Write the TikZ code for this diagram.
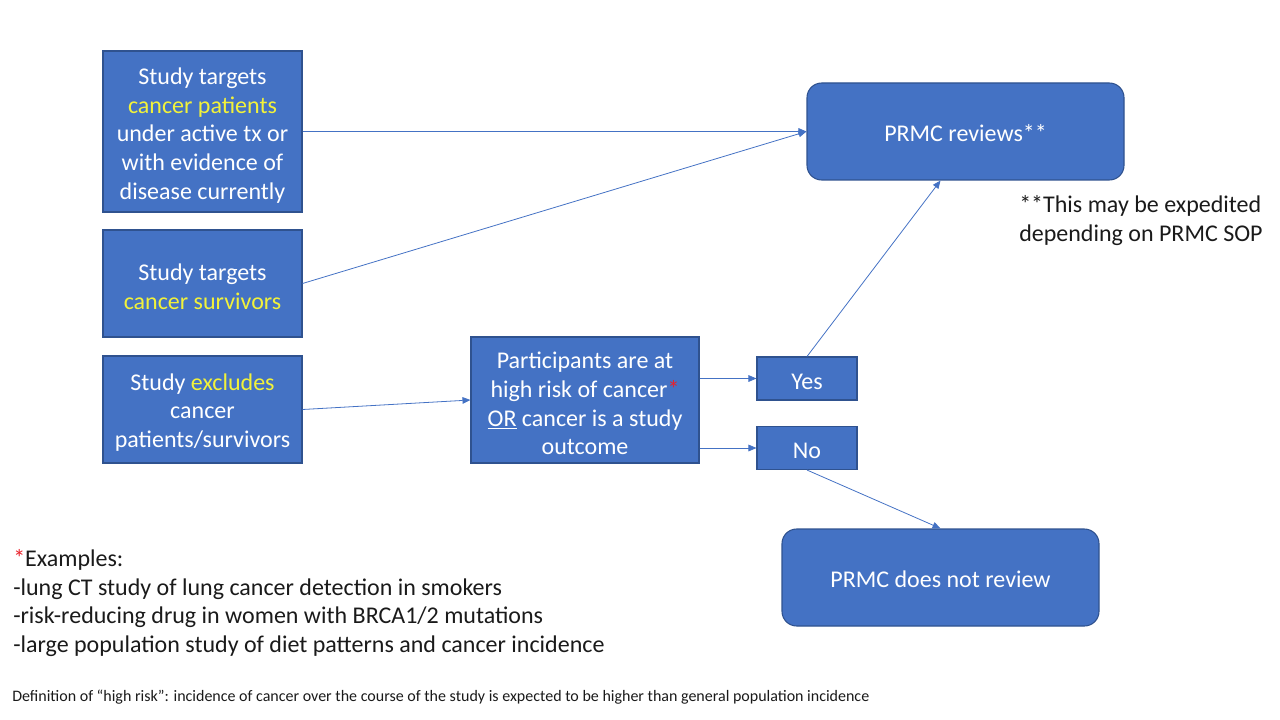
\documentclass[tikz,border=0pt]{standalone}
\usepackage{fontspec}
\setmainfont{Carlito}
\usetikzlibrary{arrows.meta,calc}
\definecolor{boxblue}{HTML}{4472C4}
\definecolor{boxedge}{HTML}{2F528F}
\definecolor{hl}{HTML}{F2F23A}
\definecolor{star}{HTML}{E8202A}
\definecolor{txt}{HTML}{1A1A1A}
\newcommand{\redstar}{\textcolor{star}{*}}
\tikzset{
  bx/.style={draw=boxedge, line width=0.8pt, fill=boxblue, inner sep=0pt},
  rbx/.style={bx, rounded corners=11pt},
  bt/.style={text=white, align=center, inner sep=0pt, font=\fontsize{18}{21.6}\selectfont},
  conn/.style={draw=boxblue, line width=0.6pt, -{Triangle[length=6pt,width=5pt]}},
  note/.style={text=txt, inner sep=0pt, font=\fontsize{18}{21.6}\selectfont}
}
\begin{document}
\begin{tikzpicture}[x=0.75pt,y=-0.75pt]
\useasboundingbox (0,0) rectangle (1280,720);
\node[bx, minimum width=149.25pt, minimum height=120.75pt] (a) at (202.5,131.5) {};
\node[bt] (at) at ($(a)+(0,4)$)
  {Study targets\\ \textcolor{hl}{cancer patients}\\ under active tx or\\ with evidence of\\ disease currently};
\node[bx, minimum width=149.25pt, minimum height=80.25pt] (b) at (202.5,283.5) {};
\node[bt] (bt) at ($(b)+(0,3)$)
  {Study targets\\ \textcolor{hl}{cancer survivors}};
\node[bx, minimum width=149.25pt, minimum height=80.25pt] (c) at (202.5,409.5) {};
\node[bt] (ct) at ($(c)+(0,3)$)
  {Study \textcolor{hl}{excludes}\\ cancer\\ patients/survivors};
\node[bx, minimum width=171pt, minimum height=94.5pt] (d) at (585,400) {};
\node[bt] (dt) at ($(d)+(0,3.5)$)
  {Participants are at\\ high risk of cancer\redstar\\ \underline{OR} cancer is a study\\ outcome};
\node[bx, minimum width=75pt, minimum height=32.25pt] (yes) at (807,378.5) {};
\node[bt] (yt) at ($(yes)+(0,3)$) {Yes};
\node[bx, minimum width=75pt, minimum height=32.25pt] (no) at (807,448) {};
\node[bt] (nt) at ($(no)+(0,3)$) {No};
\node[rbx, minimum width=237.75pt, minimum height=72.75pt] (pr) at (965.5,131.5) {};
\node[bt] (prt) at ($(pr)+(0,2)$) {PRMC reviews**};
\node[rbx, minimum width=237.75pt, minimum height=72.75pt] (nr) at (940.5,577.5) {};
\node[bt] (nrt) at ($(nr)+(0,2)$) {PRMC does not review};

\draw[conn] (a.east) -- (a.east -| pr.west);
\draw[conn] (b.east) -- (pr.west);
\draw[conn] (c.east) -- (d.west);
\draw[conn] (d.east |- yes.west) -- (yes.west);
\draw[conn] (d.east |- no.west) -- (no.west);
\draw[conn] (yes.north) -- (pr.south -| nr.north);
\draw[conn] (no.south) -- (nr.north);

\node[note, align=left, anchor=north west] (sop) at (1019,195)
  {**This may be expedited\\ depending on PRMC SOP};
\node[note, align=left, anchor=north west] (ex) at (13,549)
  {\redstar Examples:\\
   -lung CT study of lung cancer detection in smokers\\
   -risk-reducing drug in women with BRCA1/2 mutations\\
   -large population study of diet patterns and cancer incidence};
\node[text=txt, inner sep=0pt, anchor=west, font=\fontsize{12}{14}\selectfont] (def) at (12,697)
  {Definition of “high risk”: incidence of cancer over the course of the study is expected to be higher than general population incidence};
\end{tikzpicture}
\end{document}
